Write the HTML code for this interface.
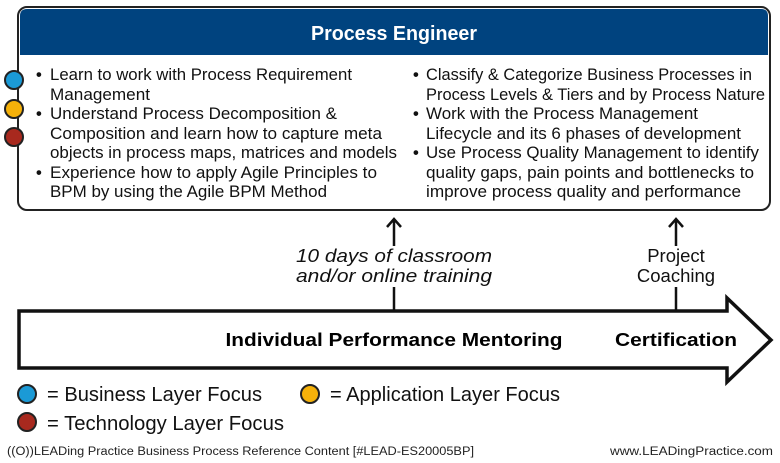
<!DOCTYPE html>
<html><head><style>body{margin:0;background:#fff}svg{display:block}</style></head><body>
<svg width="780" height="463" viewBox="0 0 780 463" xmlns="http://www.w3.org/2000/svg" font-family="Liberation Sans, sans-serif">
<rect x="18" y="7" width="752" height="203" rx="9" fill="#fff" stroke="#222" stroke-width="2"/>
<path d="M20 55 V16 Q20 9 27 9 H761 Q768 9 768 16 V55 Z" fill="#00437f"/>
<text x="394" y="40" fill="#fff" font-size="20" font-weight="bold" text-anchor="middle" textLength="166" lengthAdjust="spacingAndGlyphs">Process Engineer</text>
<g stroke="#222" stroke-width="2">
<circle cx="14" cy="80" r="9" fill="#1b9ad6"/>
<circle cx="14" cy="109" r="9" fill="#f5b10a"/>
<circle cx="14" cy="137" r="9" fill="#a8291e"/>
</g>
<g font-size="16.5" fill="#111">
<text x="36" y="80" font-weight="bold">•</text><text x="36" y="119" font-weight="bold">•</text><text x="36" y="178" font-weight="bold">•</text>
<text x="50" y="80" textLength="302" lengthAdjust="spacingAndGlyphs">Learn to work with Process Requirement</text>
<text x="50" y="100" textLength="100" lengthAdjust="spacingAndGlyphs">Management</text>
<text x="50" y="119" textLength="287" lengthAdjust="spacingAndGlyphs">Understand Process Decomposition &amp;</text>
<text x="50" y="139" textLength="332" lengthAdjust="spacingAndGlyphs">Composition and learn how to capture meta</text>
<text x="50" y="158" textLength="347" lengthAdjust="spacingAndGlyphs">objects in process maps, matrices and models</text>
<text x="50" y="178" textLength="327" lengthAdjust="spacingAndGlyphs">Experience how to apply Agile Principles to</text>
<text x="50" y="197" textLength="277" lengthAdjust="spacingAndGlyphs">BPM by using the Agile BPM Method</text>
<text x="413" y="80" font-weight="bold">•</text><text x="413" y="119" font-weight="bold">•</text><text x="413" y="158" font-weight="bold">•</text>
<text x="426" y="80" textLength="326" lengthAdjust="spacingAndGlyphs">Classify &amp; Categorize Business Processes in</text>
<text x="426" y="100" textLength="339" lengthAdjust="spacingAndGlyphs">Process Levels &amp; Tiers and by Process Nature</text>
<text x="426" y="119" textLength="272" lengthAdjust="spacingAndGlyphs">Work with the Process Management</text>
<text x="426" y="139" textLength="315" lengthAdjust="spacingAndGlyphs">Lifecycle and its 6 phases of development</text>
<text x="426" y="158" textLength="333" lengthAdjust="spacingAndGlyphs">Use Process Quality Management to identify</text>
<text x="426" y="178" textLength="328" lengthAdjust="spacingAndGlyphs">quality gaps, pain points and bottlenecks to</text>
<text x="426" y="197" textLength="315" lengthAdjust="spacingAndGlyphs">improve process quality and performance</text>
</g>
<g stroke="#111" stroke-width="2.5" fill="none">
<path d="M394 220 V246 M387 227 L394 219 L401 227"/>
<path d="M394 287 V311"/>
<path d="M676 220 V246 M669 227 L676 219 L683 227"/>
<path d="M676 287 V311"/>
</g>
<g font-size="18.5" fill="#111" text-anchor="middle">
<text x="394" y="262" font-style="italic" textLength="196" lengthAdjust="spacingAndGlyphs">10 days of classroom</text>
<text x="394" y="282" font-style="italic" textLength="196" lengthAdjust="spacingAndGlyphs">and/or online training</text>
<text x="676" y="262">Project</text>
<text x="676" y="282">Coaching</text>
</g>
<path d="M19 311 H727 V298 L771 340 L727 382 V368 H19 Z" fill="#fff" stroke="#111" stroke-width="3.5" stroke-linejoin="miter"/>
<text x="394" y="346" font-size="18" font-weight="bold" text-anchor="middle" textLength="337" lengthAdjust="spacingAndGlyphs">Individual Performance Mentoring</text>
<text x="676" y="346" font-size="18" font-weight="bold" text-anchor="middle" textLength="122" lengthAdjust="spacingAndGlyphs">Certification</text>
<g stroke="#222" stroke-width="2">
<circle cx="27" cy="394" r="9" fill="#1b9ad6"/>
<circle cx="310" cy="394" r="9" fill="#f5b10a"/>
<circle cx="27" cy="422" r="9" fill="#a8291e"/>
</g>
<g font-size="20" fill="#111">
<text x="47" y="401" textLength="215" lengthAdjust="spacingAndGlyphs">= Business Layer Focus</text>
<text x="330" y="401" textLength="230" lengthAdjust="spacingAndGlyphs">= Application Layer Focus</text>
<text x="47" y="430" textLength="237" lengthAdjust="spacingAndGlyphs">= Technology Layer Focus</text>
</g>
<g font-size="11.5" fill="#222">
<text x="7" y="455" textLength="467" lengthAdjust="spacingAndGlyphs">((O))LEADing Practice Business Process Reference Content [#LEAD-ES20005BP]</text>
<text x="773" y="455" text-anchor="end" textLength="163" lengthAdjust="spacingAndGlyphs">www.LEADingPractice.com</text>
</g>
</svg>
</body></html>
